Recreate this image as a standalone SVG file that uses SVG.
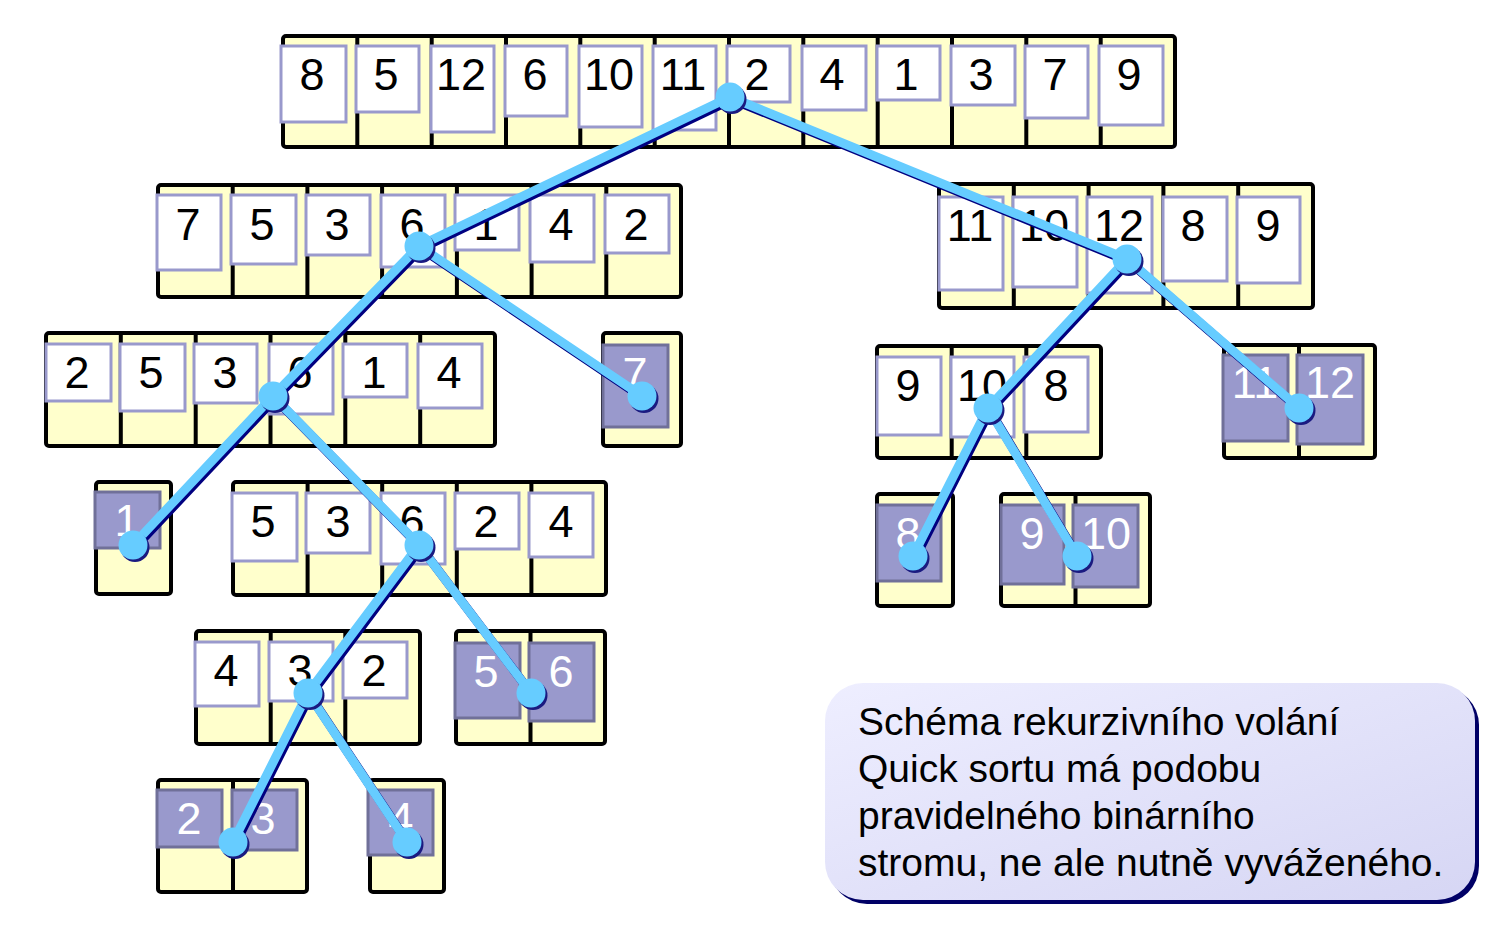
<svg xmlns="http://www.w3.org/2000/svg" width="1491" height="933" viewBox="0 0 1491 933">
<defs>
<linearGradient id="noteGrad" x1="0" y1="0" x2="1" y2="1">
<stop offset="0" stop-color="#EEEEFF"/>
<stop offset="1" stop-color="#D6D6F4"/>
</linearGradient>
</defs>
<style>
.box{fill:#FFFFCC;stroke:#000;stroke-width:4;stroke-linejoin:round}
.dv{stroke:#000;stroke-width:4}
.card{fill:#fff;stroke:#9999CC;stroke-width:3}
.pcard{fill:#9999CC;stroke:#707099;stroke-width:3}
.num{font-family:"Liberation Sans",Arial,sans-serif;font-size:45px;text-anchor:middle;fill:#000}
.pnum{fill:#fff}
.sh{stroke:#000080;stroke-width:9;stroke-linecap:round;fill:none}
.ln{stroke:#66CCFF;stroke-width:9;stroke-linecap:round;fill:none}
.dsh{fill:#1a1a80}
.dot{fill:#66CCFF}
.note{font-family:"Liberation Sans",Arial,sans-serif;font-size:39px;fill:#000}
</style>
<rect width="1491" height="933" fill="#fff"/>

<g id="arr-top">
<rect class="box" x="283" y="36" width="892" height="111" rx="3"/>
<path class="dv" d="M357.3 36V147M431.7 36V147M506 36V147M580.3 36V147M654.7 36V147M729 36V147M803.3 36V147M877.7 36V147M952 36V147M1026.3 36V147M1100.7 36V147"/>
<rect class="card" x="281" y="46" width="65" height="76"/><text class="num" x="312" y="90">8</text>
<rect class="card" x="356" y="46" width="63" height="66"/><text class="num" x="386" y="90">5</text>
<rect class="card" x="431" y="46" width="63" height="86"/><text class="num" x="461" y="90">12</text>
<rect class="card" x="505" y="46" width="62" height="70"/><text class="num" x="535" y="90">6</text>
<rect class="card" x="579" y="46" width="63" height="81"/><text class="num" x="609" y="90">10</text>
<rect class="card" x="653" y="46" width="63" height="84"/><text class="num" x="683" y="90">11</text>
<rect class="card" x="727" y="46" width="63" height="56"/><text class="num" x="757" y="90">2</text>
<rect class="card" x="802" y="46" width="64" height="64"/><text class="num" x="832" y="90">4</text>
<rect class="card" x="877" y="46" width="63" height="54"/><text class="num" x="906" y="90">1</text>
<rect class="card" x="951" y="46" width="64" height="59"/><text class="num" x="981" y="90">3</text>
<rect class="card" x="1025" y="46" width="63" height="72"/><text class="num" x="1055" y="90">7</text>
<rect class="card" x="1099" y="46" width="64" height="79"/><text class="num" x="1129" y="90">9</text>
</g>

<g id="arr-l2">
<rect class="box" x="158" y="185" width="523" height="112" rx="3"/>
<path class="dv" d="M232.7 185V297M307.4 185V297M382.1 185V297M456.9 185V297M531.6 185V297M606.3 185V297"/>
<rect class="card" x="157" y="195" width="64" height="75"/><text class="num" x="188" y="240">7</text>
<rect class="card" x="231" y="195" width="65" height="69"/><text class="num" x="262" y="240">5</text>
<rect class="card" x="306" y="195" width="64" height="60"/><text class="num" x="337" y="240">3</text>
<rect class="card" x="381" y="195" width="64" height="72"/><text class="num" x="412" y="240">6</text>
<rect class="card" x="455" y="195" width="64" height="55"/><text class="num" x="486" y="240">1</text>
<rect class="card" x="530" y="195" width="64" height="67"/><text class="num" x="561" y="240">4</text>
<rect class="card" x="605" y="195" width="64" height="58"/><text class="num" x="636" y="240">2</text>
</g>

<g id="arr-r2">
<rect class="box" x="939" y="184" width="374" height="124" rx="3"/>
<path class="dv" d="M1013.8 184V308M1088.6 184V308M1163.4 184V308M1238.2 184V308"/>
<rect class="card" x="939" y="197" width="64" height="93"/><text class="num" x="970" y="241">11</text>
<rect class="card" x="1013" y="197" width="64" height="90"/><text class="num" x="1044" y="241">10</text>
<rect class="card" x="1087" y="197" width="65" height="96"/><text class="num" x="1119" y="241">12</text>
<rect class="card" x="1163" y="197" width="64" height="84"/><text class="num" x="1193" y="241">8</text>
<rect class="card" x="1237" y="197" width="63" height="86"/><text class="num" x="1268" y="241">9</text>
</g>

<g id="arr-l3">
<rect class="box" x="46" y="333" width="449" height="113" rx="3"/>
<path class="dv" d="M120.8 333V446M195.7 333V446M270.5 333V446M345.3 333V446M420.2 333V446"/>
<rect class="card" x="46" y="344" width="65" height="57"/><text class="num" x="77" y="388">2</text>
<rect class="card" x="120" y="344" width="65" height="67"/><text class="num" x="151" y="388">5</text>
<rect class="card" x="194" y="344" width="63" height="59"/><text class="num" x="225" y="388">3</text>
<rect class="card" x="269" y="344" width="64" height="70"/><text class="num" x="300" y="388">6</text>
<rect class="card" x="343" y="344" width="64" height="53"/><text class="num" x="374" y="388">1</text>
<rect class="card" x="418" y="344" width="64" height="64"/><text class="num" x="449" y="388">4</text>
</g>

<g id="arr-7">
<rect class="box" x="603" y="333" width="78" height="113" rx="3"/>
<rect class="pcard" x="603" y="345" width="65" height="82"/><text class="num pnum" x="635" y="389">7</text>
</g>

<g id="arr-r3a">
<rect class="box" x="877" y="346" width="224" height="112" rx="3"/>
<path class="dv" d="M951.7 346V458M1026.3 346V458"/>
<rect class="card" x="877" y="357" width="64" height="78"/><text class="num" x="908" y="401">9</text>
<rect class="card" x="951" y="357" width="63" height="80"/><text class="num" x="982" y="401">10</text>
<rect class="card" x="1024" y="357" width="64" height="75"/><text class="num" x="1056" y="401">8</text>
</g>

<g id="arr-r3b">
<rect class="box" x="1224" y="345" width="151" height="113" rx="3"/>
<path class="dv" d="M1299 345V458"/>
<rect class="pcard" x="1223" y="355" width="65" height="86"/><text class="num pnum" x="1255" y="398">11</text>
<rect class="pcard" x="1297" y="355" width="66" height="89"/><text class="num pnum" x="1330" y="398">12</text>
</g>

<g id="arr-1">
<rect class="box" x="96" y="482" width="75" height="112" rx="3"/>
<rect class="pcard" x="95" y="492" width="65" height="56"/><text class="num pnum" x="127" y="536">1</text>
</g>

<g id="arr-l4">
<rect class="box" x="233" y="482" width="373" height="113" rx="3"/>
<path class="dv" d="M307.6 482V595M382.2 482V595M456.8 482V595M531.4 482V595"/>
<rect class="card" x="232" y="493" width="65" height="68"/><text class="num" x="263" y="537">5</text>
<rect class="card" x="306" y="493" width="64" height="60"/><text class="num" x="338" y="537">3</text>
<rect class="card" x="381" y="493" width="64" height="71"/><text class="num" x="412" y="537">6</text>
<rect class="card" x="455" y="493" width="64" height="56"/><text class="num" x="486" y="537">2</text>
<rect class="card" x="529" y="493" width="64" height="64"/><text class="num" x="561" y="537">4</text>
</g>

<g id="arr-8">
<rect class="box" x="877" y="494" width="76" height="112" rx="3"/>
<rect class="pcard" x="877" y="505" width="64" height="76"/><text class="num pnum" x="908" y="549">8</text>
</g>

<g id="arr-9-10">
<rect class="box" x="1001" y="494" width="149" height="112" rx="3"/>
<path class="dv" d="M1075.5 494V606"/>
<rect class="pcard" x="1001" y="505" width="63" height="79"/><text class="num pnum" x="1032" y="549">9</text>
<rect class="pcard" x="1073" y="505" width="65" height="82"/><text class="num pnum" x="1106" y="549">10</text>
</g>

<g id="arr-l5a">
<rect class="box" x="196" y="631" width="224" height="113" rx="3"/>
<path class="dv" d="M270.7 631V744M345.3 631V744"/>
<rect class="card" x="195" y="642" width="64" height="64"/><text class="num" x="226" y="686">4</text>
<rect class="card" x="269" y="642" width="64" height="59"/><text class="num" x="300" y="686">3</text>
<rect class="card" x="343" y="642" width="64" height="56"/><text class="num" x="374" y="686">2</text>
</g>

<g id="arr-l5b">
<rect class="box" x="456" y="631" width="149" height="113" rx="3"/>
<path class="dv" d="M530.5 631V744"/>
<rect class="pcard" x="455" y="643" width="65" height="75"/><text class="num pnum" x="486" y="687">5</text>
<rect class="pcard" x="529" y="643" width="65" height="78"/><text class="num pnum" x="561" y="687">6</text>
</g>

<g id="arr-l6a">
<rect class="box" x="158" y="780" width="149" height="112" rx="3"/>
<path class="dv" d="M233 780V892"/>
<rect class="pcard" x="157" y="790" width="65" height="57"/><text class="num pnum" x="189" y="834">2</text>
<rect class="pcard" x="232" y="790" width="65" height="60"/><text class="num pnum" x="263" y="834">3</text>
</g>

<g id="arr-l6b">
<rect class="box" x="370" y="780" width="74" height="112" rx="3"/>
<rect class="pcard" x="368" y="790" width="65" height="65"/><text class="num pnum" x="401" y="834">4</text>
</g>

<g id="connectors">
<g transform="translate(2,2.5)">
<path class="sh" d="M730 97L419 246M730 97L1127 259M419 246L273 396M419 246L642 396M1127 259L988 408M1127 259L1299 408M273 396L133 545M273 396L419 545M988 408L913 556M988 408L1077 556M419 545L308 693M419 545L531 693M308 693L233 842M308 693L407 842"/>
</g>
<path class="ln" d="M730 97L419 246M730 97L1127 259M419 246L273 396M419 246L642 396M1127 259L988 408M1127 259L1299 408M273 396L133 545M273 396L419 545M988 408L913 556M988 408L1077 556M419 545L308 693M419 545L531 693M308 693L233 842M308 693L407 842"/>
<g class="dsh" transform="translate(2,2.5)">
<circle cx="730" cy="97" r="14.5"/><circle cx="419" cy="246" r="14.5"/><circle cx="1127" cy="259" r="14.5"/>
<circle cx="273" cy="396" r="14.5"/><circle cx="642" cy="396" r="14.5"/><circle cx="988" cy="408" r="14.5"/>
<circle cx="1299" cy="408" r="14.5"/><circle cx="133" cy="545" r="14.5"/><circle cx="419" cy="545" r="14.5"/>
<circle cx="913" cy="556" r="14.5"/><circle cx="1077" cy="556" r="14.5"/><circle cx="308" cy="693" r="14.5"/>
<circle cx="531" cy="693" r="14.5"/><circle cx="233" cy="842" r="14.5"/><circle cx="407" cy="842" r="14.5"/>
</g>
<g class="dot">
<circle cx="730" cy="97" r="14.5"/><circle cx="419" cy="246" r="14.5"/><circle cx="1127" cy="259" r="14.5"/>
<circle cx="273" cy="396" r="14.5"/><circle cx="642" cy="396" r="14.5"/><circle cx="988" cy="408" r="14.5"/>
<circle cx="1299" cy="408" r="14.5"/><circle cx="133" cy="545" r="14.5"/><circle cx="419" cy="545" r="14.5"/>
<circle cx="913" cy="556" r="14.5"/><circle cx="1077" cy="556" r="14.5"/><circle cx="308" cy="693" r="14.5"/>
<circle cx="531" cy="693" r="14.5"/><circle cx="233" cy="842" r="14.5"/><circle cx="407" cy="842" r="14.5"/>
</g>
</g>

<g id="note">
<rect x="829" y="687" width="650" height="217" rx="38" fill="#000066"/>
<rect x="825" y="683" width="650" height="217" rx="38" fill="url(#noteGrad)"/>
<text class="note" x="858" y="735">Schéma rekurzivního volání</text>
<text class="note" x="858" y="782">Quick sortu má podobu</text>
<text class="note" x="858" y="829">pravidelného binárního</text>
<text class="note" x="858" y="876">stromu, ne ale nutně vyváženého.</text>
</g>
</svg>
